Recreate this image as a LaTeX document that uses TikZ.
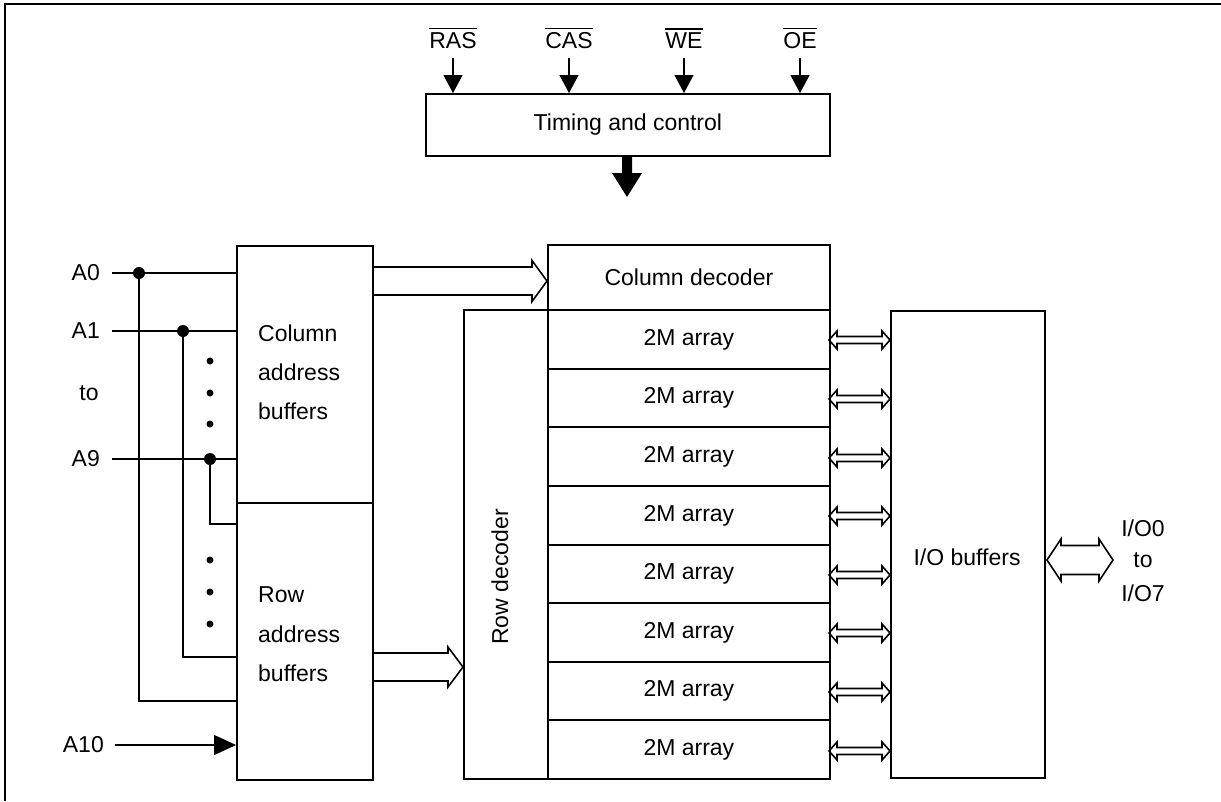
\documentclass[tikz,border=0pt]{standalone}
\usepackage{fontspec}
\setmainfont{Liberation Sans}
\usetikzlibrary{arrows.meta,calc}
\newcommand\ovl[1]{\vbox{\hrule height 1.2pt\kern 2.5pt\hbox{#1}}}
\newcommand\HollowR[6]{% x1 x2 y shafthalf headhalf headlen
  \draw[hol] ({#1},{#3-#4}) -- ({#2-#6},{#3-#4}) -- ({#2-#6},{#3-#5}) -- ({#2},{#3})
    -- ({#2-#6},{#3+#5}) -- ({#2-#6},{#3+#4}) -- ({#1},{#3+#4});}
\newcommand\HollowLR[6]{%
  \draw[hol] ({#1},{#3}) -- ({#1+#6},{#3-#5}) -- ({#1+#6},{#3-#4}) -- ({#2-#6},{#3-#4})
    -- ({#2-#6},{#3-#5}) -- ({#2},{#3}) -- ({#2-#6},{#3+#5}) -- ({#2-#6},{#3+#4})
    -- ({#1+#6},{#3+#4}) -- ({#1+#6},{#3+#5}) -- cycle;}
\tikzset{
  txt/.style={inner sep=0pt, font=\fontsize{23}{27}\selectfont},
  box/.style={draw, line width=1.8pt, inner sep=0pt, anchor=north west},
  wire/.style={line width=1.2pt},
  hol/.style={line width=1.6pt, line join=miter},
  ctl/.style={line width=1.2pt, -{Triangle[length=18pt,width=19pt]}},
  bigdot/.style={circle, fill, inner sep=0pt, minimum size=12pt},
  smalldot/.style={circle, fill, inner sep=0pt, minimum size=7pt},
}
\begin{document}
\begin{tikzpicture}[x=1pt,y=-1pt]
\useasboundingbox (0,0) rectangle (1221,801);
\fill[white] (0,0) rectangle (1221,801);
% frame
\draw[line width=1.4pt] (5,801) -- (5,4) -- (1221,4);

% timing and control
\node[box, minimum width=404pt, minimum height=62pt] (tc) at (425,93) {};
\node[txt] (tct) at (tc.center) {Timing and control};
\foreach \nm/\lab/\x in {ras/RAS/453, cas/CAS/569, we/WE/684, oe/OE/800}{
  \node[txt, anchor=base] (\nm) at (\x,48) {\ovl{\lab}};
  \coordinate (\nm top) at (\x,58);
  \draw[ctl] (\nm top) -- (\nm top |- tc.north);
}
\fill (622,155) -- (632,155) -- (632,173) -- (642,173) -- (627,197) -- (612,173) -- (622,173) -- cycle;

% address buffers
\node[box, minimum width=136pt, minimum height=257pt] (cab) at (236,245) {};
\node[box, minimum width=136pt, minimum height=277pt] (rab) at (236,502) {};
\node[txt, anchor=base west] (cab1) at (258,341) {Column};
\node[txt, anchor=base west] (cab2) at (258,380) {address};
\node[txt, anchor=base west] (cab3) at (258,419) {buffers};
\node[txt, anchor=base west] (rab1) at (258,602) {Row};
\node[txt, anchor=base west] (rab2) at (258,642) {address};
\node[txt, anchor=base west] (rab3) at (258,681) {buffers};

% decoders and arrays
\node[box, minimum width=282pt, minimum height=65pt] (cdec) at (547,244) {};
\node[txt] (cdect) at (cdec.center) {Column decoder};
\node[box, minimum width=84pt, minimum height=469pt] (rdec) at (463,309) {};
\node[txt, rotate=90] (rdect) at (500,577) {Row decoder};
\foreach \i in {1,...,8}{
  \pgfmathsetmacro\ytop{round(309+(\i-1)*58.625)}
  \pgfmathsetmacro\ybot{round(309+\i*58.625)}
  \pgfmathsetmacro\hh{\ybot-\ytop}
  \node[box, minimum width=282pt, minimum height=\hh pt] (arr\i) at (547,\ytop) {};
  \node[txt] (arrt\i) at (arr\i.center) {2M array};
}
% I/O buffers
\node[box, minimum width=154pt, minimum height=467pt] (iob) at (890,310) {};
\node[txt] (iobt) at (967,557) {I/O buffers};
\node[txt] (io0) at (1143,528) {I/O0};
\node[txt] (ioto) at (1143,560) {to};
\node[txt] (io7) at (1143,593) {I/O7};

% hollow arrows
\HollowR{372}{547}{281}{14}{20.5}{15}
\HollowR{372}{463}{667}{14}{20}{15}
\foreach \i in {1,...,8}{
  \pgfmathsetmacro\yc{round(309+(\i-0.5)*58.625+2)}
  \HollowLR{829}{890}{\yc}{3.5}{9}{8}
}
\HollowLR{1047}{1113}{560}{14.5}{21}{14}

% address lines
\node[txt, anchor=east] (a0) at (100,273) {A0};
\node[txt, anchor=east] (a1) at (100,331) {A1};
\node[txt, anchor=base] (ato) at (89,400) {to};
\node[txt, anchor=east] (a9) at (100,459) {A9};
\node[txt, anchor=east] (a10) at (104,745) {A10};

\draw[wire] ([xshift=12pt]a0.east) -- (a0.east -| cab.west);
\draw[wire] ([xshift=12pt]a1.east) -- (a1.east -| cab.west);
\draw[wire] ([xshift=12pt]a9.east) -- (a9.east -| cab.west);
\draw[wire, -{Triangle[length=22pt,width=20pt]}] ([xshift=11pt]a10.east) -- (a10.east -| rab.west);

\node[bigdot] (d0) at (139,273) {};
\node[bigdot] (d1) at (183,331) {};
\node[bigdot] (d9) at (210,459) {};
\draw[wire] (d0.center) |- (rab.west |- 0,701);
\draw[wire] (d1.center) |- (rab.west |- 0,657);
\draw[wire] (d9.center) |- (rab.west |- 0,524);
\foreach \y [count=\k] in {361,393,424,560,592,624}{
  \node[smalldot] (sd\k) at (210,\y) {};
}
\end{tikzpicture}
\end{document}
